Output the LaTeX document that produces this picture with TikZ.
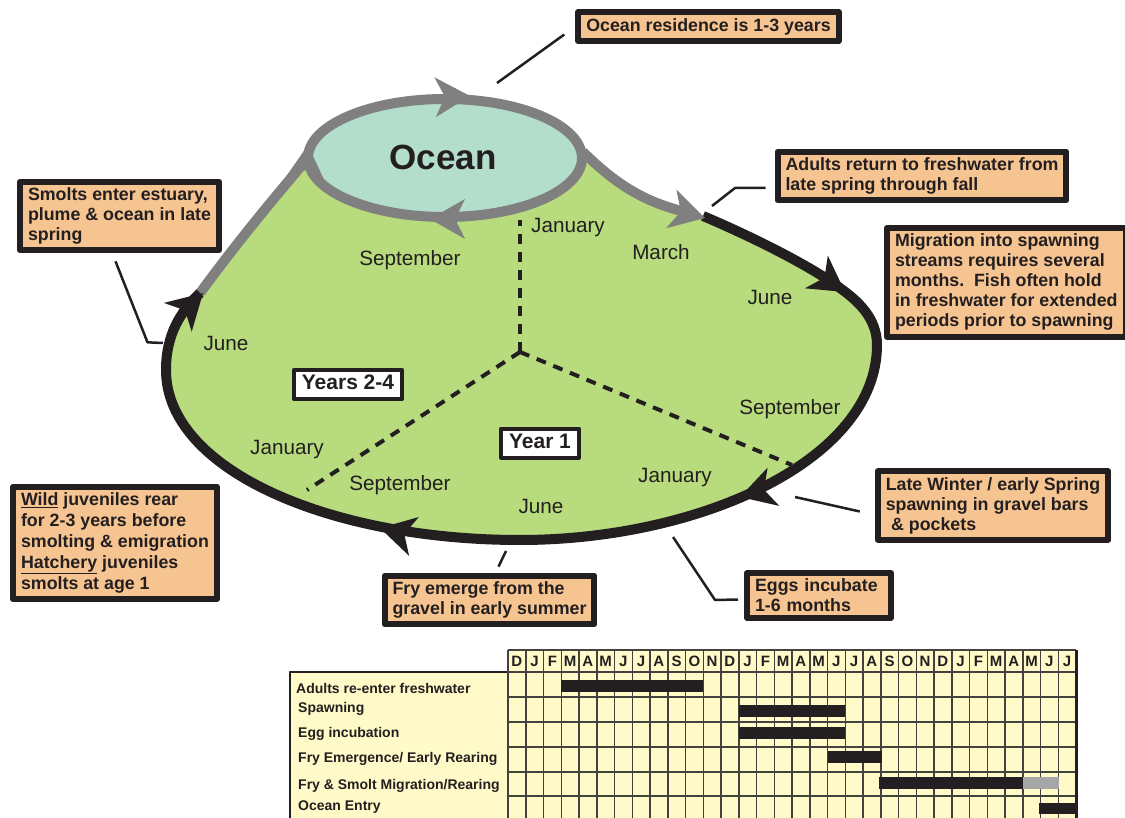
\documentclass[tikz,border=0pt]{standalone}
\usepackage{fontspec}
\setmainfont{Liberation Sans}
\usetikzlibrary{arrows.meta,calc,positioning}
\definecolor{landgreen}{RGB}{183,219,125}
\definecolor{seateal}{RGB}{180,222,204}
\definecolor{trackgray}{RGB}{128,128,128}
\definecolor{noteorange}{RGB}{246,196,145}
\definecolor{chartyellow}{RGB}{255,250,200}
\definecolor{ink}{RGB}{35,31,32}
\tikzset{note/.style={draw=ink, line width=6pt, fill=noteorange, align=left, inner xsep=8pt, inner ysep=6pt, text=ink, font=\bfseries\fontsize{17.8}{20}\selectfont},
  yearbox/.style={draw=ink, line width=4pt, fill=white, inner xsep=8pt, inner ysep=5pt, text height=15pt, text depth=4pt, text=ink, font=\bfseries\fontsize{21}{24}\selectfont},
  month/.style={text=ink, font=\fontsize{20.7}{24}\selectfont},
  leader/.style={draw=ink, line width=2.5pt},
  season/.style={draw=ink, line width=4pt, dash pattern=on 10pt off 8pt},
  lifeloop/.style={draw=ink, line width=10pt},
  track/.style={draw=trackgray, line width=10pt},
  chartlabel/.style={anchor=west, text=ink, inner sep=0pt, font=\bfseries\fontsize{14}{16}\selectfont},
  chartmonth/.style={text=ink, inner sep=0pt, font=\bfseries\fontsize{15}{16}\selectfont},
  chartgrid/.style={draw=ink!85, line width=1.5pt},
  head/.pic={\fill (0,0) -- (-35,-20) -- (-25,0) -- (-35,20) -- cycle;}}

\begin{document}
\begin{tikzpicture}[x=1pt, y=-1pt, line join=round]
  \useasboundingbox (0,0) rectangle (1125,818);
  % freshwater area
  \fill[landgreen] (583,152) .. controls (612,180) and (640,202) .. (703,216)
    .. controls (755,238) and (812,267) .. (840,288)
    .. controls (858,301) and (877,318) .. (877,345)
    .. controls (877,460) and (700,540) .. (520,540)
    .. controls (330,540) and (166,470) .. (166,370)
    .. controls (166,335) and (180,312) .. (200,293)
    .. controls (250,225) and (290,180) .. (306,152) -- cycle;
  % season boundaries
  \coordinate (hub) at (520,352);
  \draw[season] (hub) -- (520,220);
  \draw[season] (hub) -- (307,490);
  \draw[season] (hub) -- (792,465);
  % migration tracks and ocean
  \draw[track] (583,152) .. controls (612,180) and (640,202) .. (690,213);
  \draw[track] (200,293) .. controls (250,225) and (290,180) .. (306,160);
  \draw[track, fill=seateal] (445,158) ellipse [x radius=137, y radius=59];
  \node[text=ink, font=\bfseries\fontsize{35}{40}\selectfont] (ocean) at (443,157) {Ocean};
  % freshwater loop
  \draw[lifeloop] (703,216) .. controls (755,238) and (812,267) .. (840,288)
    .. controls (858,301) and (877,318) .. (877,345)
    .. controls (877,460) and (700,540) .. (520,540)
    .. controls (330,540) and (166,470) .. (166,370)
    .. controls (166,335) and (180,312) .. (200,293);
  \pic[ink, rotate=-35] at (845,292) {head};
  \pic[ink, rotate=197] at (740,497) {head};
  \pic[ink, rotate=166] at (380,528) {head};
  \pic[ink, rotate=44] at (203,293) {head};
  \pic[trackgray, rotate=85] at (308,145) {head};
  \pic[trackgray, rotate=2] at (470,96) {head};
  \pic[trackgray, rotate=180] at (430,219) {head};
  \pic[trackgray, rotate=-15] at (705,218) {head};
  % months
  \node[month] (jan1) at (568,228) {January};
  \node[month] (sep1) at (410,260) {September};
  \node[month] (mar1) at (661,252) {March};
  \node[month] (jun1) at (770,297) {June};
  \node[month] (jun2) at (226,343) {June};
  \node[month] (sep2) at (790,409) {September};
  \node[month] (jan2) at (287,450) {January};
  \node[month] (jan3) at (675,478) {January};
  \node[month] (sep3) at (400,485) {September};
  \node[month] (jun3) at (541,506) {June};
  \node[yearbox] (years24) at (348,384.5) {Years 2-4};
  \node[yearbox] (year1) at (540,443) {Year 1};
  % notes
  \node[note] (residence) at (708.5,26.5) {Ocean residence is 1-3 years};
  \node[note] (returning) at (922,176) {Adults return to freshwater from\\late spring through fall};
  \node[note, anchor=north west] (migration) at (884,225) {Migration into spawning\\streams requires several\\months.\ \ Fish often hold\\in freshwater for extended\\periods prior to spawning};
  \node[note] (spawning) at (993,505.5) {Late Winter / early Spring\\spawning in gravel bars\\\hspace{0.3em}\& pockets};
  \node[note, text width=128pt] (incubate) at (819,595.5) {Eggs incubate\\1-6 months};
  \node[note] (emerge) at (489.5,600) {Fry emerge from the\\gravel in early summer};
  \node[note, font=\bfseries\fontsize{17.8}{21}\selectfont] (rearing) at (115,543) {\underline{Wild} juveniles rear\\for 2-3 years before\\smolting \& emigration\\\underline{Hatchery} juveniles\\smolts at age 1};
  \node[note] (smolts) at (119.5,216) {Smolts enter estuary,\\plume \& ocean in late\\spring};
  % leaders
  \coordinate (ocean-pt) at (497,83);
  \coordinate (return-pt) at (712,206);
  \coordinate (spawn-pt) at (795,497);
  \coordinate (egg-pt) at (673,537);
  \coordinate (fry-pt) at (506,551);
  \coordinate (smolt-pt) at (163,343);
  \draw[leader] (ocean-pt) -- ([xshift=-11pt, yshift=-8pt]residence.west);
  \draw[leader] (return-pt) -- ++(23,-18) -- ([xshift=-9pt, yshift=-12pt]returning.west);
  \draw[leader] (spawn-pt) -- ([xshift=-15pt, yshift=-6pt]spawning.west);
  \draw[leader] (egg-pt) -- ++(42,63) -- ([xshift=-6pt, yshift=-4pt]incubate.west);
  \draw[leader] (fry-pt) -- ([xshift=9pt, yshift=6pt]emerge.north);
  \draw[leader] ([xshift=-4pt, yshift=-8pt]smolts.south) -- ++(32,81) -- (smolt-pt);
  % timing chart
  \fill[chartyellow] (290,672) rectangle (508,822);
  \draw[ink, line width=2.5pt] (290,822) -- (290,672) -- (508,672);
  \fill[chartyellow] (508,650) rectangle (1076,822);
  \foreach \i in {0,...,32}
    \draw[chartgrid] ({508+17.75*\i},650) -- ({508+17.75*\i},822);
  \foreach \y in {650,672,697,722,747,772,796}
    \draw[chartgrid] (508,\y) -- (1076,\y);
  \draw[ink, line width=3pt] (1076,650) -- (1076,822);
  \foreach \m [count=\i from 0] in {D,J,F,M,A,M,J,J,A,S,O,N,D,J,F,M,A,M,J,J,A,S,O,N,D,J,F,M,A,M,J,J}
    \node[chartmonth] (hdr-\i) at ({516.9+17.75*\i},661.5) {\m};
  \fill[ink] (561.25,680) rectangle (703.25,692);
  \fill[ink] (738.75,705) rectangle (845.25,717);
  \fill[ink] (738.75,727) rectangle (845.25,739);
  \fill[ink] (827.5,751) rectangle (882,763);
  \fill[ink] (879,777) rectangle (1022.75,789);
  \fill[black!35] (1022.75,777) rectangle (1059,789);
  \fill[ink] (1039,803) rectangle (1076,814);
  \node[chartlabel] (adults) at (296,688) {Adults re-enter freshwater};
  \node[chartlabel] (spawn) at (298,709) {Spawning};
  \node[chartlabel] (eggs) at (298,734) {Egg incubation};
  \node[chartlabel] (fry) at (298,759) {Fry Emergence/ Early Rearing};
  \node[chartlabel] (smolt) at (298,786) {Fry \& Smolt Migration/Rearing};
  \node[chartlabel] (entry) at (298,807) {Ocean Entry};
\end{tikzpicture}
\end{document}
